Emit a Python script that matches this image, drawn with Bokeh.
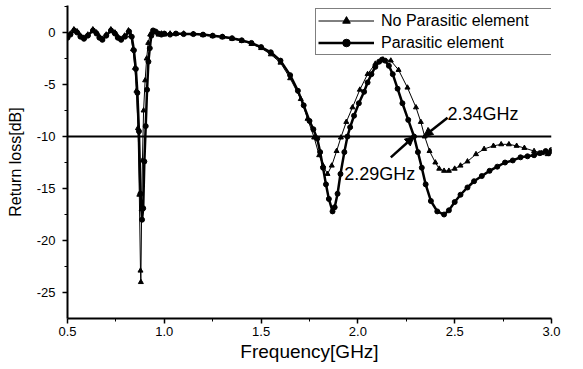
from bokeh.plotting import figure
from bokeh.models import (Range1d, FixedTicker, Legend, LegendItem, Span, Arrow,
                          NormalHead, ColumnDataSource)
from bokeh.core.properties import value
from bokeh.embed import file_html
from bokeh.resources import INLINE

# ---- data ----
freq_no_parasitic = [0.50, 0.515, 0.533, 0.55, 0.567, 0.585, 0.605, 0.631, 0.65, 0.665, 0.68, 0.70,
                     0.724, 0.745, 0.76, 0.776, 0.795, 0.815, 0.827, 0.838, 0.848, 0.856, 0.864, 0.871,
                     0.877, 0.879, 0.883, 0.887, 0.893, 0.901, 0.909, 0.917, 0.927, 0.94, 0.955, 0.97,
                     0.985, 1.00, 1.03, 1.06, 1.10, 1.15, 1.20, 1.25, 1.30, 1.35, 1.40, 1.45, 1.50,
                     1.55, 1.60, 1.65, 1.705, 1.74, 1.774, 1.80, 1.82, 1.843, 1.865, 1.89, 1.912,
                     1.94, 1.972, 2.01, 2.05, 2.09, 2.13, 2.17, 2.21, 2.256, 2.30, 2.325, 2.345, 2.37,
                     2.40, 2.42, 2.445, 2.47, 2.50, 2.53, 2.566, 2.61, 2.652, 2.70, 2.74, 2.78, 2.82,
                     2.86, 2.91, 2.95, 2.98, 3.00]
rl_no_parasitic = [-0.4, -0.1, 0.3, 0.1, -0.3, -0.5, -0.2, 0.3, 0.0, -0.4, -0.6, -0.2,
                   0.3, 0.0, -0.4, -0.6, -0.3, 0.2, -0.3, -1.6, -3.4, -5.6, -9.2, -15.6,
                   -22.9, -24.0, -17.0, -12.3, -7.5, -4.6, -2.5, -1.0, -0.2, 0.1, 0.0, -0.2,
                   -0.1, -0.2, -0.1, -0.15, -0.1, -0.15, -0.25, -0.35, -0.45, -0.6, -0.8, -1.1, -1.5,
                   -2.1, -2.9, -4.4, -6.4, -8.3, -10.1, -11.8, -12.8, -13.6, -12.8, -11.4, -10.1,
                   -8.6, -7.2, -5.5, -4.0, -3.0, -2.6, -2.7, -3.6, -5.3, -7.2, -8.6, -10.0, -11.4,
                   -12.5, -13.1, -13.3, -13.3, -13.1, -12.8, -12.4, -11.7, -11.2, -10.9, -10.75, -10.75, -10.9,
                   -11.1, -11.4, -11.6, -11.7, -11.5]

freq_parasitic = [0.50, 0.515, 0.535, 0.55, 0.567, 0.585, 0.605, 0.632, 0.65, 0.665, 0.68, 0.70,
                  0.725, 0.745, 0.76, 0.777, 0.797, 0.818, 0.832, 0.843, 0.853, 0.861, 0.869, 0.877,
                  0.885, 0.891, 0.897, 0.904, 0.911, 0.918, 0.925, 0.933, 0.942, 0.955, 0.97, 0.985,
                  1.00, 1.03, 1.06, 1.10, 1.15, 1.20, 1.25, 1.30, 1.35, 1.40, 1.45, 1.50, 1.55,
                  1.60, 1.65, 1.69, 1.72, 1.75, 1.77, 1.79, 1.805, 1.82, 1.835, 1.85, 1.869, 1.88,
                  1.895, 1.91, 1.93, 1.946, 1.96, 1.98, 2.005, 2.032, 2.05, 2.07, 2.09, 2.11, 2.125,
                  2.14, 2.16, 2.18, 2.205, 2.23, 2.26, 2.29, 2.31, 2.33, 2.35, 2.377, 2.41, 2.445,
                  2.47, 2.50, 2.53, 2.566, 2.60, 2.64, 2.68, 2.72, 2.76, 2.80, 2.84, 2.876, 2.91,
                  2.94, 2.97, 2.985, 3.00]
rl_parasitic = [-0.5, -0.2, 0.2, 0.0, -0.4, -0.6, -0.3, 0.2, -0.1, -0.5, -0.7, -0.3,
                0.2, -0.1, -0.5, -0.7, -0.4, 0.1, -0.4, -1.7, -3.5, -5.8, -9.5, -15.5,
                -18.0, -16.9, -12.4, -9.0, -5.5, -2.8, -1.5, -0.3, 0.2, 0.1, -0.1, -0.2,
                -0.1, -0.2, -0.1, -0.15, -0.15, -0.2, -0.3, -0.4, -0.55, -0.75, -1.0, -1.4, -1.9,
                -2.7, -4.1, -5.6, -7.0, -8.5, -9.3, -10.2, -11.5, -13.0, -14.6, -16.0, -17.2, -16.8,
                -15.5, -13.6, -11.5, -10.0, -9.1, -8.0, -6.8, -5.7, -4.8, -4.0, -3.3, -2.8, -2.6,
                -2.7, -3.2, -4.0, -5.4, -6.8, -8.4, -10.0, -11.5, -13.0, -14.6, -16.2, -17.2, -17.5,
                -17.1, -16.3, -15.6, -14.9, -14.3, -13.8, -13.3, -12.9, -12.5, -12.3, -12.0, -11.9, -11.8,
                -11.6, -11.4, -11.6, -11.3]

series_names = ["No Parasitic element", "Parasitic element"]
threshold_db = -10
crossing_freqs = [2.34, 2.29]
crossing_labels = ["2.34GHz", "2.29GHz"]
x_ticks = [0.5, 1.0, 1.5, 2.0, 2.5, 3.0]
x_tick_labels = ["0.5", "1.0", "1.5", "2.0", "2.5", "3.0"]
y_ticks = [0, -5, -10, -15, -20, -25]
y_tick_labels = ["0", "-5", "-10", "-15", "-20", "-25"]

FONT = "Liberation Sans"

p = figure(width=583, height=369, output_backend="svg", toolbar_location=None,
           x_range=Range1d(0.5, 3.0), y_range=Range1d(-27.5, 2.6),
           min_border_left=67, min_border_right=32, min_border_top=5, min_border_bottom=51)
p.outline_line_color = None
p.grid.visible = False
p.background_fill_color = "white"
p.border_fill_color = "white"

# axes
p.xaxis.ticker = FixedTicker(ticks=x_ticks, minor_ticks=[0.75, 1.25, 1.75, 2.25, 2.75])
p.xaxis.major_label_overrides = {t: l for t, l in zip(x_ticks, x_tick_labels)}
p.yaxis.ticker = FixedTicker(ticks=y_ticks, minor_ticks=[2.5, -2.5, -7.5, -12.5, -17.5, -22.5])
p.yaxis.major_label_overrides = {t: l for t, l in zip(y_ticks, y_tick_labels)}
p.xaxis.axis_label = "Frequency[GHz]"
p.yaxis.axis_label = "Return loss[dB]"
for ax in (p.xaxis[0], p.yaxis[0]):
    ax.axis_line_width = 2
    ax.axis_line_color = "black"
    ax.major_tick_line_width = 1.5
    ax.major_tick_line_color = "black"
    ax.minor_tick_line_color = "black"
    ax.major_tick_out = 5
    ax.major_tick_in = 0
    ax.minor_tick_out = 3
    ax.minor_tick_in = 0
    ax.major_label_text_font = FONT
    ax.major_label_text_font_size = "13px"
    ax.major_label_text_color = "black"
    ax.axis_label_text_font = FONT
    ax.axis_label_text_font_style = "normal"
    ax.axis_label_text_color = "black"
p.xaxis.major_label_standoff = 3
p.xaxis.axis_label_standoff = 2
p.xaxis.axis_label_text_font_size = "19px"
p.yaxis.major_label_standoff = 7
p.yaxis.axis_label_standoff = 10
p.yaxis.axis_label_text_font_size = "16px"

# threshold line
p.add_layout(Span(location=threshold_db, dimension="width", line_color="black", line_width=2))

# series
src_a = ColumnDataSource(dict(x=freq_no_parasitic, y=rl_no_parasitic))
src_b = ColumnDataSource(dict(x=freq_parasitic, y=rl_parasitic))
la = p.line("x", "y", source=src_a, line_color="black", line_width=1)
ma = p.scatter("x", "y", source=src_a, marker="triangle", size=5, fill_color="black", line_color="black")
lb = p.line("x", "y", source=src_b, line_color="black", line_width=2.5)
mb = p.scatter("x", "y", source=src_b, marker="circle", size=5, fill_color="black", line_color="black")

# annotations: arrows pointing at the -10 dB crossings
tail_offsets = [(0.123, 1.8), (-0.12, -2.0)]
label_pos = [(2.463, -7.86), (1.929, -13.64)]
for f, lab, (dx, dy), (tx, ty) in zip(crossing_freqs, crossing_labels, tail_offsets, label_pos):
    p.add_layout(Arrow(end=NormalHead(size=9, fill_color="black", line_color="black"),
                       x_start=f + dx, y_start=threshold_db + dy, x_end=f, y_end=threshold_db,
                       line_color="black", line_width=2.5))
    p.text(x=[tx], y=[ty], text=[lab], text_font=value(FONT), text_font_size="18px",
           text_baseline="middle", text_align="left", text_color="black")

legend = Legend(items=[LegendItem(label=series_names[0], renderers=[la, ma]),
                       LegendItem(label=series_names[1], renderers=[lb, mb])],
                location=(248, 263), padding=2, spacing=3, margin=0,
                glyph_width=56, glyph_height=19, label_height=19, label_width=230,
                label_standoff=7, label_text_font=FONT, label_text_font_size="16px",
                label_text_color="black",
                border_line_color="black", border_line_width=1.2,
                background_fill_alpha=1.0)
p.add_layout(legend, "center")

open("out.html", "w").write(file_html(p, INLINE))
